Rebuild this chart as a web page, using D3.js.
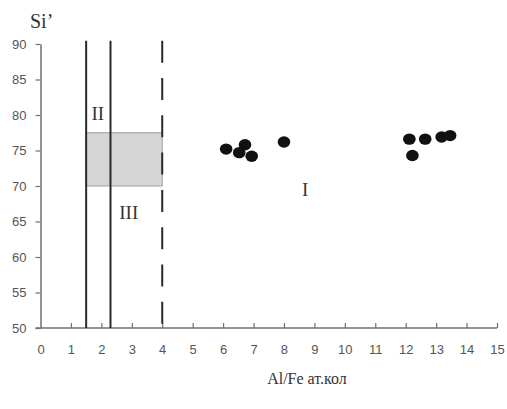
<!DOCTYPE html>
<html>
<head>
<meta charset="utf-8">
<script src="https://cdn.jsdelivr.net/npm/d3@7"></script>
<style>
  html, body { margin: 0; padding: 0; background: #fff; }
  svg { display: block; }
</style>
</head>
<body>
<svg id="chart" width="507" height="409"></svg>
<script>
// Sample points: Al/Fe atomic ratio vs Si'
const alFe = [6.1, 6.72, 6.53, 6.94, 8.0, 12.12, 12.64, 12.22, 13.18, 13.46];
const siPrime = [75.2, 75.8, 74.7, 74.2, 76.2, 76.6, 76.6, 74.3, 76.9, 77.1];

const xTicks = [0, 1, 2, 3, 4, 5, 6, 7, 8, 9, 10, 11, 12, 13, 14, 15];
const yTicks = [50, 55, 60, 65, 70, 75, 80, 85, 90];

// Field boundaries (Al/Fe) and the shaded Si' band
const solidBounds = [1.5, 2.3];
const dashedBound = [4];
const band = [1.5, 4, 70, 77.5];

// Field labels
const fieldNames = ["II", "III", "I"];
const fieldX = [1.88, 2.9, 8.7];
const fieldY = [80.2, 66.3, 69.5];

const svg = d3.select("#chart");
const x = d3.scaleLinear().domain([0, 15]).range([40.5, 497]);
const y = d3.scaleLinear().domain([50, 90]).range([328, 44]);

const axisColor = "#707070";
const labelColor = "#555";
const sans = "'Liberation Sans', Arial, sans-serif";
const serif = "'Liberation Serif', 'Times New Roman', serif";

// Shaded band
svg.append("rect")
  .attr("x", x(band[0])).attr("y", y(band[3]))
  .attr("width", x(band[1]) - x(band[0]))
  .attr("height", y(band[2]) - y(band[3]))
  .attr("fill", "#d5d5d5")
  .attr("stroke", "#a0a0a0").attr("stroke-width", 1);

// X axis: ticks point inward
const xAxis = svg.append("g").attr("transform", `translate(0,${y(50)})`)
  .call(d3.axisBottom(x).tickValues(xTicks).tickSizeInner(-5).tickSizeOuter(0).tickPadding(17).tickFormat(d3.format("d")));
xAxis.select(".domain").attr("stroke", axisColor).attr("stroke-width", 1.5)
  .attr("d", `M${x(0) - 5},0H${x(15)}`);
xAxis.selectAll(".tick line").attr("stroke", axisColor).attr("stroke-width", 1.2);
xAxis.selectAll(".tick").filter(d => d === 0).select("line").remove();
xAxis.selectAll(".tick text").attr("fill", labelColor).attr("font-family", sans).attr("font-size", 13);

// Y axis: ticks point outward
const yAxis = svg.append("g").attr("transform", `translate(${x(0)},0)`)
  .call(d3.axisLeft(y).tickValues(yTicks).tickSizeInner(5).tickSizeOuter(0).tickPadding(9).tickFormat(d3.format("d")));
yAxis.select(".domain").attr("stroke", axisColor).attr("stroke-width", 1.5);
yAxis.selectAll(".tick line").attr("stroke", axisColor).attr("stroke-width", 1.2);
yAxis.selectAll(".tick text").attr("fill", labelColor).attr("font-family", sans).attr("font-size", 13);

// Boundary lines
const lineTop = 40.7;
svg.selectAll("line.solid").data(solidBounds).join("line")
  .attr("class", "solid")
  .attr("x1", d => x(d)).attr("x2", d => x(d))
  .attr("y1", lineTop).attr("y2", y(50))
  .attr("stroke", "#2a2a2a").attr("stroke-width", 2);

svg.selectAll("line.dashed").data(dashedBound).join("line")
  .attr("class", "dashed")
  .attr("x1", d => x(d)).attr("x2", d => x(d))
  .attr("y1", lineTop).attr("y2", y(50))
  .attr("stroke", "#2a2a2a").attr("stroke-width", 2)
  .attr("stroke-dasharray", "22,15.3");

// Data points
svg.selectAll("ellipse.pt").data(alFe).join("ellipse")
  .attr("class", "pt")
  .attr("cx", d => x(d))
  .attr("cy", (d, i) => y(siPrime[i]))
  .attr("rx", 6.3).attr("ry", 5.7)
  .attr("fill", "#111");

// Field labels
svg.selectAll("text.field").data(fieldNames).join("text")
  .attr("class", "field")
  .attr("x", (d, i) => x(fieldX[i]))
  .attr("y", (d, i) => y(fieldY[i]))
  .attr("text-anchor", "middle").attr("dominant-baseline", "central")
  .attr("font-family", serif).attr("font-size", 19).attr("fill", "#333")
  .text(d => d);

// Axis titles
svg.append("text").attr("x", 30).attr("y", 28)
  .attr("font-family", serif).attr("font-size", 20).attr("fill", "#333")
  .text("Si’");

svg.append("text").attr("x", 307).attr("y", 384)
  .attr("text-anchor", "middle")
  .attr("font-family", serif).attr("font-size", 16).attr("fill", "#333")
  .text("Al/Fe ат.кол");
</script>
</body>
</html>
